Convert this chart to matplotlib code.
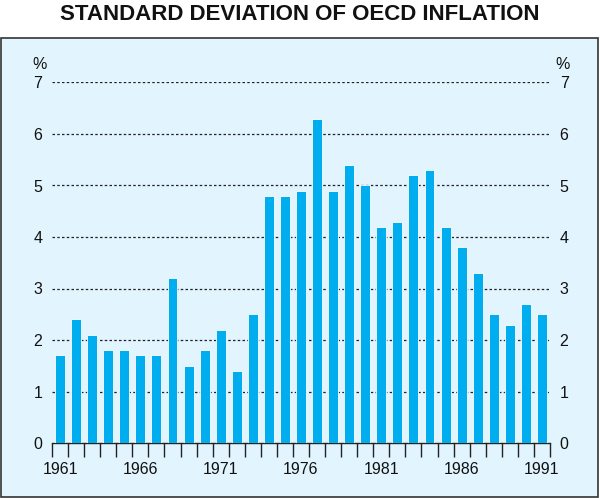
import matplotlib
matplotlib.use("Agg")
import matplotlib.pyplot as plt
from matplotlib.patches import Rectangle
import numpy as np

years = list(range(1961, 1992))
values = [1.7, 2.4, 2.1, 1.8, 1.8, 1.7, 1.7, 3.2, 1.5, 1.8, 2.2, 1.4, 2.5,
          4.8, 4.8, 4.9, 6.3, 4.9, 5.4, 5.0, 4.2, 4.3, 5.2, 5.3, 4.2, 3.8,
          3.3, 2.5, 2.3, 2.7, 2.5]
year_labels = [1961, 1966, 1971, 1976, 1981, 1986, 1991]
y_ticks = [0, 1, 2, 3, 4, 5, 6, 7]

plt.rcParams['font.family'] = ['Liberation Sans', 'DejaVu Sans']

fig = plt.figure(figsize=(6.0, 4.98), dpi=100)
bg = '#E2F4FD'
panel = Rectangle((0.002, 0.002), 0.994, (498 - 38) / 498 - 0.002,
                  transform=fig.transFigure, facecolor=bg, edgecolor='#333333',
                  linewidth=1.2, zorder=-10)
fig.patches.append(panel)

fig.text(0.5, (498 - 15) / 498, 'STANDARD DEVIATION OF OECD INFLATION',
         ha='center', va='center', fontsize=16, fontweight='bold', color='#111111')

ax = fig.add_axes([52 / 600, (498 - 443) / 498, (550 - 52) / 600, (443 - 82.5) / 498])
ax.set_facecolor('none')
ax.set_zorder(5)
ax.bar(years, values, width=0.62, color='#00AEEF', edgecolor='white',
       linewidth=0.6, zorder=3)
ax.set_xlim(1960.5, 1991.5)
ax.set_ylim(0, 7)

for y in y_ticks[1:]:
    ax.axhline(y, color='#222222', linestyle=(0, (2, 1.8)), linewidth=0.9, zorder=1)

for s in ['top', 'left', 'right']:
    ax.spines[s].set_visible(False)
ax.spines['bottom'].set_color('#222222')
ax.spines['bottom'].set_linewidth(1.0)

ax.set_xticks(year_labels)
ax.set_xticklabels([str(y) for y in year_labels], fontsize=11.5, color='#111111')
ax.set_xticks(np.arange(1960.5, 1992.0, 1.0), minor=True)
ax.tick_params(axis='x', which='major', length=0, pad=14)
ax.tick_params(axis='x', which='minor', length=10, width=1.0, color='#222222', direction='out')

ax.set_yticks(y_ticks)
ax.set_yticklabels([str(v) for v in y_ticks], fontsize=11.5, color='#111111')
ax.tick_params(axis='y', which='both', length=0, pad=7, labelleft=True, labelright=True)

ax.text(-0.025, 1.03, '%', transform=ax.transAxes, ha='center', va='bottom',
        fontsize=11.5, color='#111111')
ax.text(1.025, 1.03, '%', transform=ax.transAxes, ha='center', va='bottom',
        fontsize=11.5, color='#111111')

fig.savefig('out.png', dpi=100, facecolor='white')
